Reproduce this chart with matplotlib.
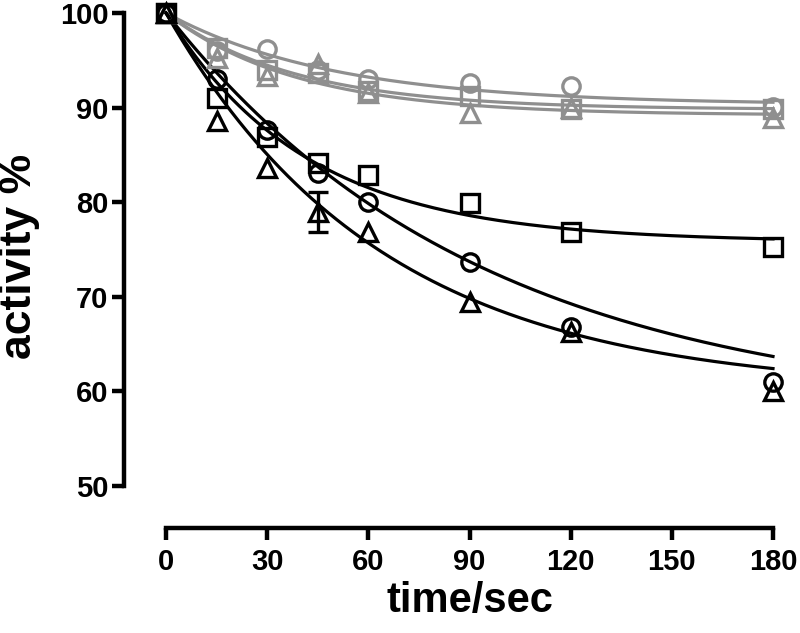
import numpy as np
import matplotlib
matplotlib.use("Agg")
import matplotlib.pyplot as plt

# sampling times (sec)
times = [0, 15, 30, 45, 60, 90, 120, 180]

# grey series (activity %)
grey_circle = [100, 96.0, 96.2, 94.0, 93.0, 92.6, 92.3, 90.1]
grey_square = [100, 96.3, 94.0, 93.7, 91.8, 91.2, 89.9, 89.8]
grey_triangle = [100, 95.2, 93.3, 94.6, 91.5, 89.4, 90.0, 88.9]

# black series (activity %)
black_square = [100, 91.0, 86.9, 84.1, 82.9, 79.9, 76.9, 75.3]
black_circle = [100, 93.0, 87.6, 83.1, 80.0, 73.7, 66.8, 61.0]
black_triangle = [100, 88.6, 83.6, 79.0, 76.9, 69.5, 66.3, 60.0]
black_triangle_err = [0, 0, 0, 2.1, 0, 0, 0, 0]

# one-phase decay fits: (plateau, rate 1/sec)
grey_circle_fit = (90.3, 0.020)
grey_square_fit = (89.8, 0.026)
grey_triangle_fit = (89.2, 0.0257)
black_square_fit = (75.8, 0.024)
black_circle_fit = (57.5, 0.0107)
black_triangle_fit = (60.0, 0.0156)

x_ticks = [0, 30, 60, 90, 120, 150, 180]
y_ticks = [50, 60, 70, 80, 90, 100]

GREY = '#8f8f8f'
BLACK = '#000000'
FONT = ['Liberation Sans', 'DejaVu Sans']


def decay(t, fit, y0=100.0):
    plateau, k = fit
    return plateau + (y0 - plateau) * np.exp(-k * t)


def draw_series(ax, values, fit, marker, color):
    t = np.linspace(times[0], times[-1], 300)
    ax.plot(t, decay(t, fit), color=color, lw=2.3, clip_on=False, zorder=2)
    ax.plot(times, values, linestyle='none', marker=marker, ms=12.5,
            mfc='none', mec=color, mew=2.4, clip_on=False, zorder=3)


def main():
    W, H = 800, 633
    fig = plt.figure(figsize=(W / 100, H / 100), dpi=100)
    # data area in pixels: x 0..180 -> 166..773, y 100..50 -> 13..486
    ax = fig.add_axes([166 / W, 1 - 486 / H, (773 - 166) / W, (486 - 13) / H])
    ax.set_xlim(0, 180)
    ax.set_ylim(50, 100)

    draw_series(ax, grey_circle, grey_circle_fit, 'o', GREY)
    draw_series(ax, grey_square, grey_square_fit, 's', GREY)
    draw_series(ax, grey_triangle, grey_triangle_fit, '^', GREY)
    draw_series(ax, black_square, black_square_fit, 's', BLACK)
    draw_series(ax, black_circle, black_circle_fit, 'o', BLACK)
    draw_series(ax, black_triangle, black_triangle_fit, '^', BLACK)

    # only the error bar that sticks out of its marker
    err = np.array(black_triangle_err)
    idx = err > 0
    ax.errorbar(np.array(times)[idx], np.array(black_triangle)[idx], yerr=err[idx],
                fmt='none', ecolor=BLACK, elinewidth=2.4, capsize=7, capthick=2.4,
                clip_on=False, zorder=3)

    for side in ['top', 'right']:
        ax.spines[side].set_visible(False)
    for side in ['left', 'bottom']:
        ax.spines[side].set_position(('outward', 30))
        ax.spines[side].set_linewidth(3.2)
        ax.spines[side].set_capstyle('projecting')
    ax.spines['left'].set_bounds(50, 100)
    ax.spines['bottom'].set_bounds(0, 180)

    ax.set_xticks(x_ticks)
    ax.set_yticks(y_ticks)
    ax.tick_params(direction='out', length=8.5, width=3.2, colors=BLACK)
    ax.tick_params(axis='y', pad=3)
    ax.tick_params(axis='x', pad=6)
    for lab in ax.get_xticklabels() + ax.get_yticklabels():
        lab.set_family(FONT)
        lab.set_fontweight('bold')
        lab.set_fontsize(21)

    fig.text(20 / W, 1 - 256 / H, 'activity %', rotation=90, ha='center', va='center',
             family=FONT, fontweight='bold', fontsize=32)
    fig.text(470 / W, 1 - 601 / H, 'time/sec', ha='center', va='center',
             family=FONT, fontweight='bold', fontsize=30)

    fig.savefig('out.png', dpi=100)


if __name__ == "__main__":
    main()
